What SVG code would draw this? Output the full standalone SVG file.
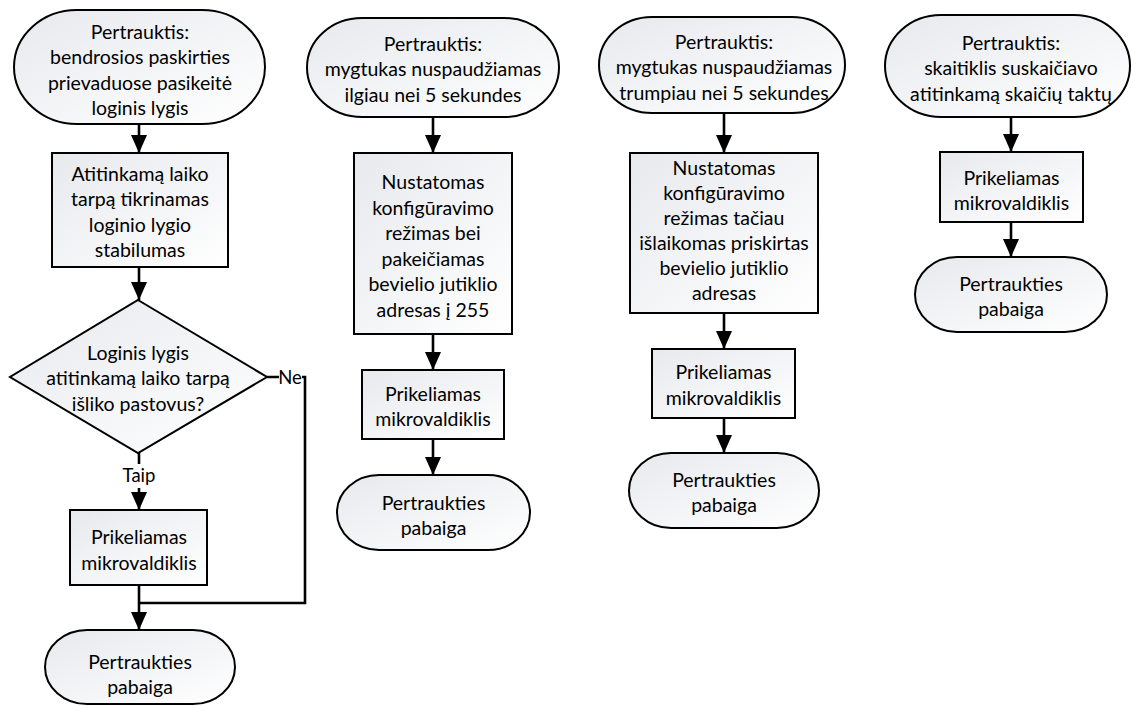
<svg xmlns="http://www.w3.org/2000/svg" width="1133" height="706" viewBox="0 0 1133 706">
  <defs>
    <linearGradient id="fillGrad" x1="0" y1="0" x2="1" y2="1">
      <stop offset="0" stop-color="#e7e9ed"/>
      <stop offset="1" stop-color="#ffffff"/>
    </linearGradient>
    <marker id="arrow" viewBox="0 0 18 16" refX="18" refY="8" markerWidth="18" markerHeight="16" markerUnits="userSpaceOnUse" orient="auto">
      <path d="M0,0 L18,8 L0,16 Z" fill="#000"/>
    </marker>
  </defs>
  <style>
    .shape { fill: url(#fillGrad); stroke: #000; stroke-width: 2; }
    .conn { fill: none; stroke: #000; stroke-width: 2.6; }
    .arr { marker-end: url(#arrow); }
    text { font-family: Lato, "Liberation Sans", sans-serif; font-size: 19.5px; fill: #000; text-anchor: middle; }
    .lbl { font-size: 18.5px; }
    .mask { fill: #fff; stroke: none; }
  </style>
  <rect width="1133" height="706" fill="#fff"/>

  <!-- connectors -->
  <g id="connectors">
    <!-- column 1 -->
    <line class="conn arr" x1="139" y1="124" x2="139" y2="153"/>
    <line class="conn arr" x1="139" y1="267" x2="139" y2="300"/>
    <line class="conn arr" x1="139" y1="453" x2="139" y2="510"/>
    <line class="conn arr" x1="139" y1="585" x2="139" y2="630"/>
    <polyline class="conn" points="267,377 305,377 305,603 138,603"/>
    <rect class="mask" x="118" y="464" width="42" height="24"/>
    <text class="lbl" x="139" y="482">Taip</text>
    <rect class="mask" x="279" y="366" width="23" height="22"/>
    <text class="lbl" x="290" y="383.5">Ne</text>
    <!-- column 2 -->
    <line class="conn arr" x1="433" y1="117" x2="433" y2="153"/>
    <line class="conn arr" x1="433" y1="334" x2="433" y2="370"/>
    <line class="conn arr" x1="433" y1="439" x2="433" y2="475"/>
    <!-- column 3 -->
    <line class="conn arr" x1="724" y1="113" x2="724" y2="153"/>
    <line class="conn arr" x1="724" y1="313" x2="724" y2="349"/>
    <line class="conn arr" x1="724" y1="418" x2="724" y2="453"/>
    <!-- column 4 -->
    <line class="conn arr" x1="1011" y1="117" x2="1011" y2="152"/>
    <line class="conn arr" x1="1011" y1="222" x2="1011" y2="257"/>
  </g>

  <!-- column 1: general purpose port level change -->
  <g id="c1-start">
    <rect class="shape" x="14" y="10" width="251" height="114" rx="63" ry="57"/>
    <text x="140" y="38.5">Pertrauktis:</text>
    <text x="140" y="64">bendrosios paskirties</text>
    <text x="140" y="89.5">prievaduose pasikeitė</text>
    <text x="140" y="115">loginis lygis</text>
  </g>
  <g id="c1-check">
    <rect class="shape" x="52" y="153" width="176" height="114"/>
    <text x="140" y="180.5">Atitinkamą laiko</text>
    <text x="140" y="206">tarpą tikrinamas</text>
    <text x="140" y="231.5">loginio lygio</text>
    <text x="140" y="257">stabilumas</text>
  </g>
  <g id="c1-decision">
    <polygon class="shape" points="138,300 267,377 138,453 10,377"/>
    <text x="138" y="359.5">Loginis lygis</text>
    <text x="138" y="385">atitinkamą laiko tarpą</text>
    <text x="138" y="410.5">išliko pastovus?</text>
  </g>
  <g id="c1-wake">
    <rect class="shape" x="70" y="510" width="137" height="75"/>
    <text x="139" y="544">Prikeliamas</text>
    <text x="139" y="569.5">mikrovaldiklis</text>
  </g>
  <g id="c1-end">
    <rect class="shape" x="45" y="630" width="190" height="74" rx="42" ry="37"/>
    <text x="140" y="668.5">Pertraukties</text>
    <text x="140" y="694">pabaiga</text>
  </g>

  <!-- column 2: button held longer than 5 s -->
  <g id="c2-start">
    <rect class="shape" x="307" y="18" width="252" height="99" rx="55" ry="49.5"/>
    <text x="433" y="50.5">Pertrauktis:</text>
    <text x="433" y="76">mygtukas nuspaudžiamas</text>
    <text x="433" y="101.5">ilgiau nei 5 sekundes</text>
  </g>
  <g id="c2-config">
    <rect class="shape" x="354" y="153" width="158" height="181"/>
    <text x="433" y="189">Nustatomas</text>
    <text x="433" y="214.5">konfigūravimo</text>
    <text x="433" y="240">režimas bei</text>
    <text x="433" y="265.5">pakeičiamas</text>
    <text x="433" y="291">bevielio jutiklio</text>
    <text x="433" y="316.5">adresas į 255</text>
  </g>
  <g id="c2-wake">
    <rect class="shape" x="362" y="370" width="142" height="69"/>
    <text x="433" y="400.5">Prikeliamas</text>
    <text x="433" y="426">mikrovaldiklis</text>
  </g>
  <g id="c2-end">
    <rect class="shape" x="337" y="475" width="193" height="75" rx="42" ry="37.5"/>
    <text x="433.5" y="509.5">Pertraukties</text>
    <text x="433.5" y="535">pabaiga</text>
  </g>

  <!-- column 3: button held shorter than 5 s -->
  <g id="c3-start">
    <rect class="shape" x="599" y="17" width="246" height="96" rx="53" ry="48"/>
    <text x="724" y="48.5">Pertrauktis:</text>
    <text x="724" y="74">mygtukas nuspaudžiamas</text>
    <text x="724" y="99.5">trumpiau nei 5 sekundes</text>
  </g>
  <g id="c3-config">
    <rect class="shape" x="630" y="153" width="188" height="160"/>
    <text x="724" y="175">Nustatomas</text>
    <text x="724" y="200">konfigūravimo</text>
    <text x="724" y="225">režimas tačiau</text>
    <text x="724" y="250">išlaikomas priskirtas</text>
    <text x="724" y="275">bevielio jutiklio</text>
    <text x="724" y="300">adresas</text>
  </g>
  <g id="c3-wake">
    <rect class="shape" x="652" y="349" width="143" height="69"/>
    <text x="723.5" y="379">Prikeliamas</text>
    <text x="723.5" y="404.5">mikrovaldiklis</text>
  </g>
  <g id="c3-end">
    <rect class="shape" x="629" y="453" width="190" height="75" rx="42" ry="37.5"/>
    <text x="724" y="486.5">Pertraukties</text>
    <text x="724" y="512">pabaiga</text>
  </g>

  <!-- column 4: counter reached the tick count -->
  <g id="c4-start">
    <rect class="shape" x="885" y="15" width="245" height="102" rx="56" ry="51"/>
    <text x="1011" y="49.5">Pertrauktis:</text>
    <text x="1011" y="75">skaitiklis suskaičiavo</text>
    <text x="1011" y="100.5">atitinkamą skaičių taktų</text>
  </g>
  <g id="c4-wake">
    <rect class="shape" x="940" y="152" width="143" height="70"/>
    <text x="1011.5" y="184.5">Prikeliamas</text>
    <text x="1011.5" y="210">mikrovaldiklis</text>
  </g>
  <g id="c4-end">
    <rect class="shape" x="915" y="257" width="192" height="75" rx="42" ry="37.5"/>
    <text x="1011" y="290.5">Pertraukties</text>
    <text x="1011" y="316">pabaiga</text>
  </g>
</svg>
